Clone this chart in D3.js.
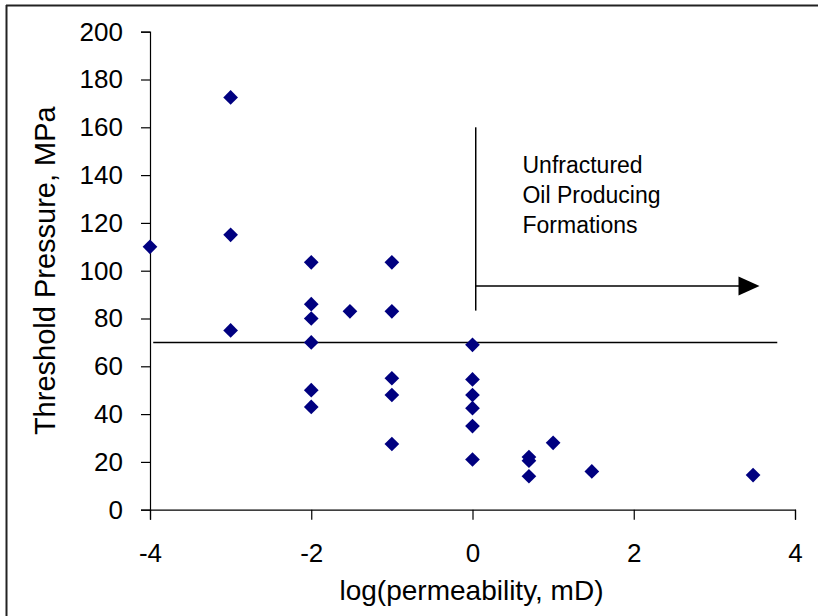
<!DOCTYPE html>
<html><head><meta charset="utf-8">
<script src="https://cdn.jsdelivr.net/npm/d3@7"></script>
<style>
html,body{margin:0;padding:0;background:#fff;}
svg{display:block;font-family:Arial,"Liberation Sans",sans-serif;}
</style></head>
<body>
<svg id="chart" width="818" height="616"></svg>
<script>
// Data: x = log(permeability, mD), y = Threshold pressure, MPa
const logPerm = [-4, -3, -3, -3, -2, -2, -2, -2, -2, -2, -1.52, -1, -1, -1, -1, -1,
                 0, 0, 0, 0, 0, 0, 0.7, 0.7, 0.7, 1, 1.48, 3.48];
const pressure = [110, 172.5, 115, 75, 103.5, 86, 80, 70, 50, 43, 83, 103.5, 83, 55, 48, 27.5,
                  69, 54.5, 48, 42.5, 35, 21, 22, 20.5, 14, 28, 16, 14.5];
const xTicks = [-4, -2, 0, 2, 4];
const yTicks = [0, 20, 40, 60, 80, 100, 120, 140, 160, 180, 200];
const thresholdLine = {x: [-3.96, 3.78], y: 70};
const arrowVertical = {x: 0.04, y: [160, 83.3]};
const arrowHorizontal = {x: [0.04, 3.56], y: 93.6};
const annotationLines = ["Unfractured", "Oil Producing", "Formations"];
const annotationPos = {x: 0.62, y: 141};
const xTitle = "log(permeability, mD)";
const yTitle = "Threshold Pressure, MPa";

const svg = d3.select("#chart");
const x = d3.scaleLinear().domain([-4, 4]).range([150, 795]);
const y = d3.scaleLinear().domain([0, 200]).range([509.7, 31.7]);

// outer frame (top and left edges)
svg.append("line").attr("x1", 6).attr("x2", 818).attr("y1", 5.5).attr("y2", 5.5)
  .attr("stroke", "#222").attr("stroke-width", 2);
svg.append("line").attr("x1", 6.5).attr("x2", 6.5).attr("y1", 5).attr("y2", 616)
  .attr("stroke", "#222").attr("stroke-width", 2);

// axes
const xAxis = svg.append("g").attr("transform", `translate(0,${y(0)})`)
  .call(d3.axisBottom(x).tickValues(xTicks).tickSize(10).tickPadding(24).tickFormat(d => String(d)));
const yAxis = svg.append("g").attr("transform", `translate(${x(-4)},0)`)
  .call(d3.axisLeft(y).tickValues(yTicks).tickSize(9).tickPadding(18).tickFormat(d => String(d)));
[xAxis, yAxis].forEach(g => {
  g.select(".domain").attr("stroke", "#000").attr("stroke-width", 1.2);
  g.selectAll(".tick line").attr("stroke", "#000").attr("stroke-width", 1.2);
  g.selectAll("text").attr("fill", "#000").attr("font-family", "Arial, 'Liberation Sans', sans-serif");
});
xAxis.selectAll("text").attr("font-size", 26);
yAxis.selectAll("text").attr("font-size", 26);

// threshold horizontal line
svg.append("line")
  .attr("x1", x(thresholdLine.x[0])).attr("x2", x(thresholdLine.x[1]))
  .attr("y1", y(thresholdLine.y)).attr("y2", y(thresholdLine.y))
  .attr("stroke", "#000").attr("stroke-width", 1.5);

// arrow annotation
svg.append("line")
  .attr("x1", x(arrowVertical.x)).attr("x2", x(arrowVertical.x))
  .attr("y1", y(arrowVertical.y[0])).attr("y2", y(arrowVertical.y[1]))
  .attr("stroke", "#000").attr("stroke-width", 1.5);
const ax0 = x(arrowHorizontal.x[0]), ax1 = x(arrowHorizontal.x[1]), ay = y(arrowHorizontal.y);
svg.append("line").attr("x1", ax0).attr("x2", ax1 - 18).attr("y1", ay).attr("y2", ay)
  .attr("stroke", "#000").attr("stroke-width", 1.5);
svg.append("path")
  .attr("d", `M${ax1},${ay} L${ax1 - 21},${ay - 9.5} L${ax1 - 21},${ay + 9.5} Z`)
  .attr("fill", "#000");

// annotation text
const ann = svg.append("text")
  .attr("x", x(annotationPos.x)).attr("y", y(annotationPos.y))
  .attr("font-size", 23).attr("fill", "#000");
annotationLines.forEach((t, i) => {
  ann.append("tspan").attr("x", x(annotationPos.x)).attr("dy", i === 0 ? 0 : 30).text(t);
});

// points
const pts = logPerm.map((v, i) => ({x: v, y: pressure[i]}));
svg.append("g").selectAll("path").data(pts).join("path")
  .attr("d", d3.symbol().type(d3.symbolSquare).size(108))
  .attr("transform", d => `translate(${x(d.x)},${y(d.y)}) rotate(45)`)
  .attr("fill", "#000080");

// axis titles
svg.append("text").attr("x", (x(-4) + x(4)) / 2 - 1).attr("y", 600)
  .attr("text-anchor", "middle").attr("font-size", 28).attr("fill", "#000").text(xTitle);
svg.append("text").attr("transform", `translate(55,${(y(0) + y(200)) / 2}) rotate(-90)`)
  .attr("text-anchor", "middle").attr("font-size", 29).attr("fill", "#000").text(yTitle);
</script>
</body></html>
